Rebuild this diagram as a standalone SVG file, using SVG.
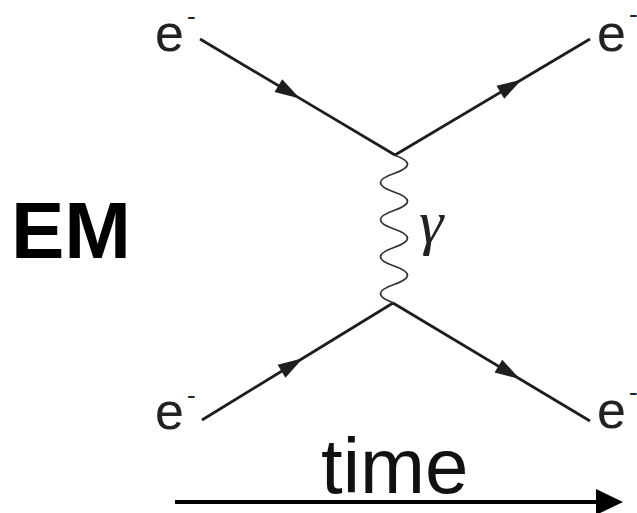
<svg xmlns="http://www.w3.org/2000/svg" width="637" height="513" viewBox="0 0 637 513">
<style>
.lbl{font-family:"Liberation Sans",Arial,sans-serif;font-size:52px;fill:#222}
.sup{font-family:"Liberation Sans",Arial,sans-serif;font-size:26px;fill:#222}
.f{fill:none;stroke:#1e1e1e;stroke-width:2.8;marker-mid:url(#ah)}
</style>
<defs>
<marker id="ah" markerUnits="userSpaceOnUse" viewBox="-26 -10 28 20" refX="0" refY="0" markerWidth="28" markerHeight="20" orient="auto">
<path d="M1,0 L-24,-7.5 L-24,7.5 Z" fill="#1e1e1e"/>
</marker>
</defs>
<rect width="637" height="513" fill="#fff"/>
<g id="connectors">
<polyline class="f" points="200,39 299,97.9 395,155"/>
<polyline class="f" points="395,155 521,80 590,39"/>
<polyline class="f" points="202,420 302,358.7 393,303"/>
<polyline class="f" points="393,303 519,378.5 590,421"/>
<path id="photon" d="M394,155 q27,9.25 0,18.5 t0,18.5 t0,18.5 t0,18.5 t0,18.5 t0,18.5 t0,18.5 t0,18.5" fill="none" stroke="#333" stroke-width="1.8"/>
<g id="time-arrow">
<line x1="175" y1="502" x2="600" y2="502" stroke="#000" stroke-width="4"/>
<polygon points="596,489 623,502 596,515" fill="#000"/>
</g>
</g>
<g id="e-in-top"><text class="lbl" x="155" y="51">e</text><text class="sup" x="187" y="25">-</text></g>
<g id="e-out-top"><text class="lbl" x="597" y="51">e</text><text class="sup" x="629" y="23">-</text></g>
<g id="e-in-bottom"><text class="lbl" x="155" y="429">e</text><text class="sup" x="187" y="404">-</text></g>
<g id="e-out-bottom"><text class="lbl" x="597" y="428">e</text><text class="sup" x="629" y="401">-</text></g>
<g id="gamma"><text x="419" y="243" font-family="Liberation Serif,serif" font-style="italic" font-size="62" fill="#222">γ</text></g>
<g id="em-label"><text x="11" y="258" font-family="Liberation Sans,Arial,sans-serif" font-weight="bold" font-size="80" fill="#000">EM</text></g>
<g id="time-label"><text x="321" y="493" font-family="Liberation Sans,Arial,sans-serif" font-size="78" fill="#111">time</text></g>
</svg>
